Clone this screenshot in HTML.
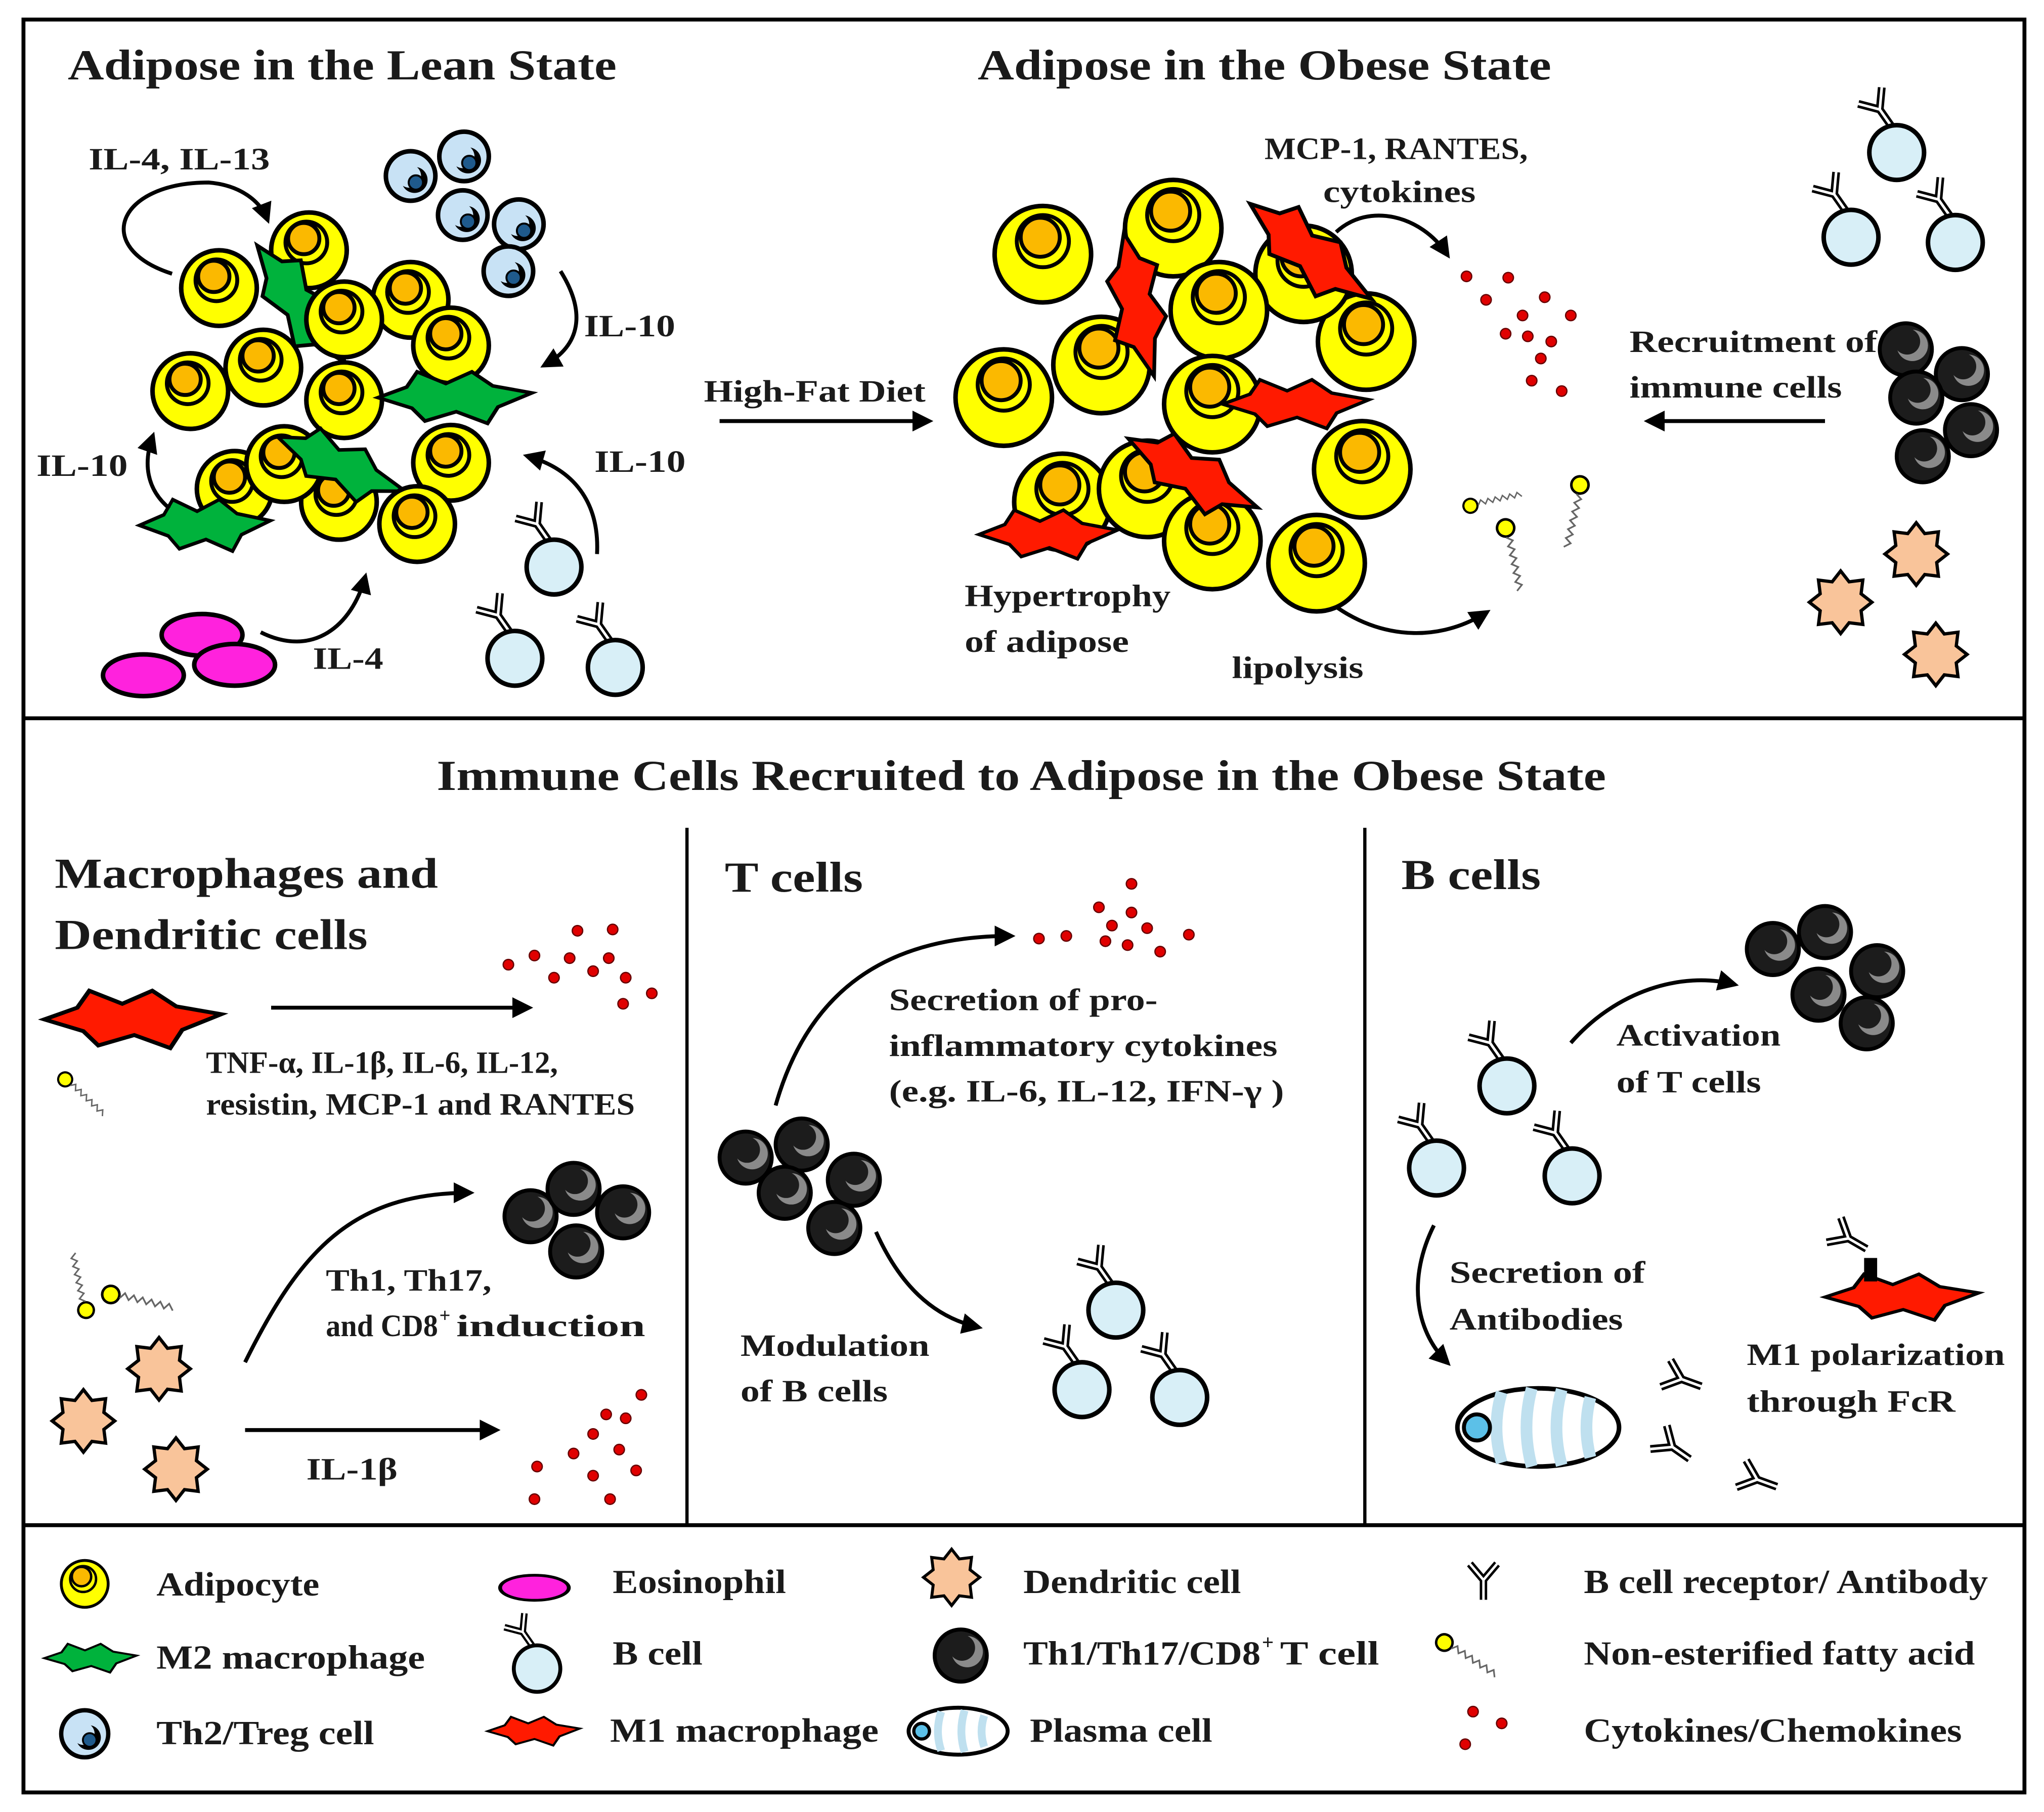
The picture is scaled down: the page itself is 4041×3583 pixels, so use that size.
<!DOCTYPE html>
<html><head><meta charset="utf-8"><style>
html,body{margin:0;padding:0;background:#fff}
svg{display:block}
text{font-family:"Liberation Serif",serif;font-weight:bold;fill:#1a1a1a}
</style></head><body>
<svg width="4041" height="3583" viewBox="0 0 1568 1390" preserveAspectRatio="none" xmlns="http://www.w3.org/2000/svg">
<defs>
<marker id="ah2" markerWidth="16" markerHeight="16" refX="12" refY="8" orient="auto" markerUnits="userSpaceOnUse" viewBox="0 0 16 16">
<path d="M0,0 L16,8 L0,16 z" fill="#000"/></marker>
<g id="adip"><circle r="29" fill="#ffff00" stroke="#000" stroke-width="3.5"/><circle cx="-2" cy="-6" r="16" fill="#ffff00" stroke="#000" stroke-width="3"/><circle cx="-4" cy="-9" r="12" fill="#fbb900" stroke="#000" stroke-width="3"/></g>
<g id="adipL"><circle r="37" fill="#ffff00" stroke="#000" stroke-width="3.5"/><circle cx="0" cy="-10" r="20" fill="#ffff00" stroke="#000" stroke-width="3"/><circle cx="-2" cy="-13" r="15" fill="#fbb900" stroke="#000" stroke-width="3"/></g>
<g id="th2"><circle r="19" fill="#c8e2f5" stroke="#000" stroke-width="3.5"/><circle cx="3" cy="3" r="10" fill="#000"/><circle cx="-1" cy="0" r="9" fill="#c8e2f5"/><circle cx="4" cy="5" r="5.5" fill="#1f5a8c" stroke="#000" stroke-width="1.5"/></g>
<g id="th1"><circle r="20" fill="#1c1c1c" stroke="#000" stroke-width="3"/><circle cx="5" cy="-3" r="12" fill="#8a8a8a"/><circle cx="1" cy="-6" r="10" fill="#1c1c1c"/></g>
<g id="ab"><path d="M0,0 L0,16 M0,0 L-11,-13 M0,0 L11,-13" stroke="#000" stroke-width="6" fill="none"/><path d="M0,0 L0,16 M0,0 L-11,-13 M0,0 L11,-13" stroke="#fff" stroke-width="2" fill="none"/></g>
<g id="bc"><use href="#ab" transform="translate(-13,-33) rotate(-35)"/><circle r="21" fill="#d8eff7" stroke="#000" stroke-width="3.5"/></g>
<g id="dc"><polygon points="24,0 15.7,6.5 17,17 6.5,15.7 0,24 -6.5,15.7 -17,17 -15.7,6.5 -24,0 -15.7,-6.5 -17,-17 -6.5,-15.7 0,-24 6.5,-15.7 17,-17 15.7,-6.5" fill="#f9c49a" stroke="#000" stroke-width="2.5" stroke-linejoin="miter"/></g>
<g id="mac"><polygon points="-60,0 -38,-9 -30,-22 -8,-12 12,-22 28,-10 58,-4 32,8 24,22 0,12 -24,20 -34,9" stroke="#000" stroke-width="3" stroke-linejoin="miter"/></g>
<g id="eo"><ellipse rx="31" ry="16" fill="#ff22dd" stroke="#000" stroke-width="3.5"/></g>
<g id="dot"><circle r="4" fill="#e00000" stroke="#600" stroke-width="1"/></g>
<g id="fa"><circle r="6" fill="#ffff00" stroke="#000" stroke-width="1.8"/><path d="M6,3 l4,-3 l2,5 l4,-3 l2,5 l4,-3 l2,5 l4,-3 l2,5 l4,-3 l2,5 l4,-3 l2,5" stroke="#666" stroke-width="1.2" fill="none"/></g>
</defs>

<rect x="18" y="15" width="1535" height="1360" fill="none" stroke="#000" stroke-width="3"/>
<line x1="18" y1="551" x2="1553" y2="551" stroke="#000" stroke-width="3"/>
<line x1="18" y1="1170" x2="1553" y2="1170" stroke="#000" stroke-width="3"/>
<line x1="527" y1="635" x2="527" y2="1170" stroke="#000" stroke-width="2.5"/>
<line x1="1047" y1="635" x2="1047" y2="1170" stroke="#000" stroke-width="2.5"/>

<g font-size="33" lengthAdjust="spacingAndGlyphs">
<text x="52" y="61" textLength="421" lengthAdjust="spacingAndGlyphs">Adipose in the Lean State</text>
<text x="750" y="61" textLength="440" lengthAdjust="spacingAndGlyphs">Adipose in the Obese State</text>
<text x="335" y="606" textLength="897" lengthAdjust="spacingAndGlyphs">Immune Cells Recruited to Adipose in the Obese State</text>
<text x="42" y="681" textLength="294" lengthAdjust="spacingAndGlyphs">Macrophages and</text>
<text x="42" y="728" textLength="240" lengthAdjust="spacingAndGlyphs">Dendritic cells</text>
<text x="556" y="684" textLength="106" lengthAdjust="spacingAndGlyphs">T cells</text>
<text x="1075" y="682" textLength="107" lengthAdjust="spacingAndGlyphs">B cells</text>
</g>

<!-- LEAN -->
<g fill="#00b23c">
<use href="#adip" x="168" y="221"/>
<use href="#adip" x="237" y="192"/>
<use href="#adip" x="315" y="230"/>
<use href="#adip" x="346" y="265"/>
<use href="#adip" x="202" y="282"/>
<use href="#adip" x="146" y="300"/>
<use href="#mac" transform="translate(230,235) rotate(55) scale(0.95)"/>
<use href="#adip" x="264" y="245"/>
<use href="#adip" x="264" y="307"/>
<use href="#mac" transform="translate(350,305) scale(1,0.9)"/>
<use href="#adip" x="180" y="375"/>
<use href="#adip" x="346" y="355"/>
<use href="#adip" x="260" y="385"/>
<use href="#adip" x="218" y="356"/>
<use href="#mac" transform="translate(262,358) rotate(25) scale(0.9)"/>
<use href="#adip" x="320" y="402"/>
<use href="#mac" transform="translate(158,403) scale(0.85,0.9)"/>
</g>
<use href="#th2" x="315" y="135"/><use href="#th2" x="356" y="120"/><use href="#th2" x="398" y="172"/><use href="#th2" x="355" y="165"/><use href="#th2" x="390" y="208"/>
<use href="#eo" x="155" y="487"/><use href="#eo" x="180" y="510"/><use href="#eo" x="110" y="518"/>
<use href="#bc" x="425" y="435"/><use href="#bc" x="395" y="505"/><use href="#bc" x="472" y="512"/>

<g fill="none" stroke="#000" stroke-width="3">
<path d="M132,210 C70,190 90,140 160,140 C185,142 200,155 205,168" marker-end="url(#ah2)"/>
<path d="M430,208 C450,240 445,265 418,280" marker-end="url(#ah2)"/>
<path d="M130,390 C112,375 110,355 117,335" marker-end="url(#ah2)"/>
<path d="M458,425 C460,385 440,360 405,350" marker-end="url(#ah2)"/>
<path d="M200,485 C240,505 270,480 280,443" marker-end="url(#ah2)"/>
<path d="M552,323 L712,323" marker-end="url(#ah2)"/>
<path d="M1400,323 L1265,323" marker-end="url(#ah2)"/>
<path d="M1025,178 C1050,155 1090,165 1110,195" marker-end="url(#ah2)"/>
<path d="M1012,455 C1050,490 1100,495 1140,470" marker-end="url(#ah2)"/>
</g>
<g font-size="24">
<text x="68" y="130" textLength="139" lengthAdjust="spacingAndGlyphs">IL-4, IL-13</text>
<text x="448" y="258" textLength="70" lengthAdjust="spacingAndGlyphs">IL-10</text>
<text x="28" y="365" textLength="70" lengthAdjust="spacingAndGlyphs">IL-10</text>
<text x="456" y="362" textLength="70" lengthAdjust="spacingAndGlyphs">IL-10</text>
<text x="240" y="513" textLength="54" lengthAdjust="spacingAndGlyphs">IL-4</text>
<text x="540" y="308" textLength="170" lengthAdjust="spacingAndGlyphs">High-Fat Diet</text>
<text x="970" y="122" textLength="202" lengthAdjust="spacingAndGlyphs">MCP-1, RANTES,</text>
<text x="1015" y="155" textLength="117" lengthAdjust="spacingAndGlyphs">cytokines</text>
<text x="740" y="465" textLength="158" lengthAdjust="spacingAndGlyphs">Hypertrophy</text>
<text x="740" y="500" textLength="126" lengthAdjust="spacingAndGlyphs">of adipose</text>
<text x="945" y="520" textLength="101" lengthAdjust="spacingAndGlyphs">lipolysis</text>
<text x="1250" y="270" textLength="190" lengthAdjust="spacingAndGlyphs">Recruitment of</text>
<text x="1250" y="305" textLength="163" lengthAdjust="spacingAndGlyphs">immune cells</text>
</g>

<!-- OBESE -->
<g fill="#ff1a00">
<use href="#adipL" x="800" y="195"/>
<use href="#adipL" x="900" y="175"/>
<use href="#adipL" x="1048" y="262"/>
<use href="#adipL" x="1000" y="210"/>
<use href="#adipL" x="770" y="305"/>
<use href="#adipL" x="845" y="280"/>
<use href="#adipL" x="935" y="238"/>
<use href="#mac" transform="translate(872,235) rotate(80) scale(0.95)"/>
<use href="#mac" transform="translate(1005,195) rotate(40) scale(1)"/>
<use href="#adipL" x="930" y="310"/>
<use href="#mac" transform="translate(995,310) scale(0.95,0.85)"/>
<use href="#adipL" x="815" y="385"/>
<use href="#adipL" x="880" y="375"/>
<use href="#adipL" x="1045" y="360"/>
<use href="#adipL" x="930" y="415"/>
<use href="#mac" transform="translate(915,365) rotate(30) scale(0.95)"/>
<use href="#adipL" x="1010" y="432"/>
<use href="#mac" transform="translate(805,410) scale(0.9,0.85)"/>
</g>
<g>
<use href="#dot" x="1125" y="212"/><use href="#dot" x="1157" y="213"/><use href="#dot" x="1140" y="230"/><use href="#dot" x="1168" y="242"/><use href="#dot" x="1185" y="228"/><use href="#dot" x="1205" y="242"/><use href="#dot" x="1155" y="256"/><use href="#dot" x="1172" y="258"/><use href="#dot" x="1190" y="262"/><use href="#dot" x="1182" y="275"/><use href="#dot" x="1175" y="292"/><use href="#dot" x="1198" y="300"/>
</g>
<use href="#fa" transform="translate(1128,388) rotate(-30) scale(0.9)"/>
<use href="#fa" transform="translate(1155,405) rotate(60) scale(1.1)"/>
<use href="#fa" transform="translate(1212,372) rotate(85) scale(1.1)"/>
<use href="#bc" x="1455" y="117"/><use href="#bc" x="1420" y="182"/><use href="#bc" x="1500" y="186"/>
<use href="#th1" x="1462" y="268"/><use href="#th1" x="1505" y="287"/><use href="#th1" x="1470" y="305"/><use href="#th1" x="1512" y="330"/><use href="#th1" x="1475" y="350"/>
<use href="#dc" x="1470" y="425"/><use href="#dc" x="1412" y="462"/><use href="#dc" x="1485" y="502"/>

<!-- MIDDLE -->
<use href="#mac" fill="#ff1a00" transform="translate(103,782) scale(1.15,1)"/>
<use href="#fa" transform="translate(50,828) rotate(25) scale(0.9)"/>
<g>
<use href="#dot" x="390" y="740"/><use href="#dot" x="410" y="733"/><use href="#dot" x="443" y="714"/><use href="#dot" x="470" y="713"/><use href="#dot" x="437" y="735"/><use href="#dot" x="455" y="745"/><use href="#dot" x="467" y="735"/><use href="#dot" x="480" y="750"/><use href="#dot" x="500" y="762"/><use href="#dot" x="478" y="770"/><use href="#dot" x="425" y="750"/>
</g>
<use href="#fa" transform="translate(85,993) rotate(-5) scale(1.1)"/>
<use href="#fa" transform="translate(66,1005) rotate(-120) scale(1)"/>
<use href="#dc" x="122" y="1050"/><use href="#dc" x="64" y="1090"/><use href="#dc" x="135" y="1127"/>
<use href="#th1" x="407" y="933"/><use href="#th1" x="440" y="912"/><use href="#th1" x="478" y="930"/><use href="#th1" x="442" y="960"/>
<g>
<use href="#dot" x="412" y="1125"/><use href="#dot" x="440" y="1115"/><use href="#dot" x="455" y="1100"/><use href="#dot" x="475" y="1112"/><use href="#dot" x="465" y="1085"/><use href="#dot" x="480" y="1088"/><use href="#dot" x="492" y="1070"/><use href="#dot" x="455" y="1132"/><use href="#dot" x="488" y="1128"/><use href="#dot" x="468" y="1150"/><use href="#dot" x="410" y="1150"/>
</g>

<use href="#th1" x="572" y="888"/><use href="#th1" x="615" y="878"/><use href="#th1" x="655" y="905"/><use href="#th1" x="602" y="915"/><use href="#th1" x="640" y="942"/>
<g>
<use href="#dot" x="797" y="720"/><use href="#dot" x="818" y="718"/><use href="#dot" x="843" y="696"/><use href="#dot" x="868" y="678"/><use href="#dot" x="853" y="710"/><use href="#dot" x="868" y="700"/><use href="#dot" x="880" y="712"/><use href="#dot" x="865" y="725"/><use href="#dot" x="848" y="722"/><use href="#dot" x="890" y="730"/><use href="#dot" x="912" y="717"/>
</g>
<use href="#bc" x="856" y="1005"/><use href="#bc" x="830" y="1066"/><use href="#bc" x="905" y="1072"/>

<use href="#bc" x="1156" y="833"/><use href="#bc" x="1102" y="896"/><use href="#bc" x="1206" y="902"/>
<use href="#th1" x="1360" y="728"/><use href="#th1" x="1400" y="715"/><use href="#th1" x="1440" y="745"/><use href="#th1" x="1395" y="763"/><use href="#th1" x="1432" y="785"/>
<g>
<ellipse cx="1180" cy="1095" rx="62" ry="30" fill="#fff" stroke="#000" stroke-width="3.5"/>
<path d="M1152,1068 q-8,27 0,54 M1175,1065 q-8,30 0,60 M1198,1066 q-8,29 0,58 M1220,1072 q-6,23 0,46" stroke="#bfe0ef" stroke-width="9" fill="none"/>
<circle cx="1133" cy="1095" r="10" fill="#5cc0e8" stroke="#000" stroke-width="3"/>
</g>
<use href="#ab" transform="translate(1290,1058) rotate(-70)"/>
<use href="#ab" transform="translate(1283,1110) rotate(-55)"/>
<use href="#ab" transform="translate(1348,1135) rotate(-70)"/>
<use href="#mac" fill="#ff1a00" transform="translate(1460,995) scale(1,0.8)"/>
<rect x="1430" y="965" width="10" height="18" fill="#000"/>
<use href="#ab" transform="translate(1418,950) rotate(-60)"/>

<g fill="none" stroke="#000" stroke-width="3">
<path d="M208,773 L405,773" marker-end="url(#ah2)"/>
<path d="M188,1045 C230,960 270,915 360,915" marker-end="url(#ah2)"/>
<path d="M188,1097 L380,1097" marker-end="url(#ah2)"/>
<path d="M595,848 C620,760 680,718 775,718" marker-end="url(#ah2)"/>
<path d="M672,945 C690,985 715,1010 750,1018" marker-end="url(#ah2)"/>
<path d="M1205,800 C1240,760 1290,745 1330,755" marker-end="url(#ah2)"/>
<path d="M1100,940 C1080,980 1085,1020 1110,1045" marker-end="url(#ah2)"/>
</g>
<g font-size="24">
<text x="158" y="823" textLength="270" lengthAdjust="spacingAndGlyphs">TNF-α, IL-1β, IL-6, IL-12,</text>
<text x="158" y="855" textLength="329" lengthAdjust="spacingAndGlyphs">resistin, MCP-1 and RANTES</text>
<text x="250" y="990" textLength="127" lengthAdjust="spacingAndGlyphs">Th1, Th17,</text>
<text x="250" y="1025" textLength="86" lengthAdjust="spacingAndGlyphs">and CD8</text>
<text x="337" y="1014" font-size="15">+</text>
<text x="350" y="1025" textLength="145" lengthAdjust="spacingAndGlyphs">induction</text>
<text x="235" y="1135" textLength="70" lengthAdjust="spacingAndGlyphs">IL-1β</text>
<text x="682" y="775" textLength="206" lengthAdjust="spacingAndGlyphs">Secretion of pro-</text>
<text x="682" y="810" textLength="298" lengthAdjust="spacingAndGlyphs">inflammatory cytokines</text>
<text x="682" y="845" textLength="303" lengthAdjust="spacingAndGlyphs">(e.g. IL-6, IL-12, IFN-γ )</text>
<text x="568" y="1040" textLength="145" lengthAdjust="spacingAndGlyphs">Modulation</text>
<text x="568" y="1075" textLength="113" lengthAdjust="spacingAndGlyphs">of B cells</text>
<text x="1240" y="802" textLength="126" lengthAdjust="spacingAndGlyphs">Activation</text>
<text x="1240" y="838" textLength="111" lengthAdjust="spacingAndGlyphs">of T cells</text>
<text x="1112" y="984" textLength="150" lengthAdjust="spacingAndGlyphs">Secretion of</text>
<text x="1112" y="1020" textLength="133" lengthAdjust="spacingAndGlyphs">Antibodies</text>
<text x="1340" y="1047" textLength="198" lengthAdjust="spacingAndGlyphs">M1 polarization</text>
<text x="1340" y="1083" textLength="160" lengthAdjust="spacingAndGlyphs">through FcR</text>
</g>

<!-- LEGEND -->
<use href="#adip" transform="translate(65,1215) scale(0.62)" />
<use href="#mac" fill="#00b23c" transform="translate(70,1272) scale(0.6,0.5)"/>
<use href="#th2" transform="translate(65,1330) scale(0.95)"/>
<use href="#eo" transform="translate(410,1218) scale(0.85,0.6)"/>
<use href="#bc" transform="translate(412,1280) scale(0.85)"/>
<use href="#mac" fill="#ff1a00" transform="translate(410,1328) scale(0.6,0.5)"/>
<use href="#dc" transform="translate(730,1210) scale(0.9)"/>
<use href="#th1" x="737" y="1270"/>
<g>
<ellipse cx="735" cy="1328" rx="38" ry="18" fill="#fff" stroke="#000" stroke-width="3"/>
<path d="M722,1313 q-5,15 0,30 M740,1312 q-5,16 0,32 M755,1316 q-4,12 0,24" stroke="#bfe0ef" stroke-width="6" fill="none"/>
<circle cx="707" cy="1328" r="6" fill="#5cc0e8" stroke="#000" stroke-width="2.5"/>
</g>
<use href="#ab" transform="translate(1138,1212) scale(0.95)"/>
<use href="#fa" transform="translate(1108,1260) rotate(15) scale(1.05)"/>
<use href="#dot" x="1130" y="1313"/><use href="#dot" x="1152" y="1322"/><use href="#dot" x="1124" y="1338"/>
<g font-size="26">
<text x="120" y="1224" textLength="125" lengthAdjust="spacingAndGlyphs">Adipocyte</text>
<text x="120" y="1280" textLength="206" lengthAdjust="spacingAndGlyphs">M2 macrophage</text>
<text x="120" y="1338" textLength="167" lengthAdjust="spacingAndGlyphs">Th2/Treg cell</text>
<text x="470" y="1222" textLength="133" lengthAdjust="spacingAndGlyphs">Eosinophil</text>
<text x="470" y="1277" textLength="69" lengthAdjust="spacingAndGlyphs">B cell</text>
<text x="468" y="1336" textLength="206" lengthAdjust="spacingAndGlyphs">M1 macrophage</text>
<text x="785" y="1222" textLength="167" lengthAdjust="spacingAndGlyphs">Dendritic cell</text>
<text x="785" y="1277" textLength="182" lengthAdjust="spacingAndGlyphs">Th1/Th17/CD8</text>
<text x="968" y="1265" font-size="16">+</text>
<text x="982" y="1277" textLength="76" lengthAdjust="spacingAndGlyphs">T cell</text>
<text x="790" y="1336" textLength="140" lengthAdjust="spacingAndGlyphs">Plasma cell</text>
<text x="1215" y="1222" textLength="310" lengthAdjust="spacingAndGlyphs">B cell receptor/ Antibody</text>
<text x="1215" y="1277" textLength="300" lengthAdjust="spacingAndGlyphs">Non-esterified fatty acid</text>
<text x="1215" y="1336" textLength="290" lengthAdjust="spacingAndGlyphs">Cytokines/Chemokines</text>
</g>
</svg>
</body></html>
